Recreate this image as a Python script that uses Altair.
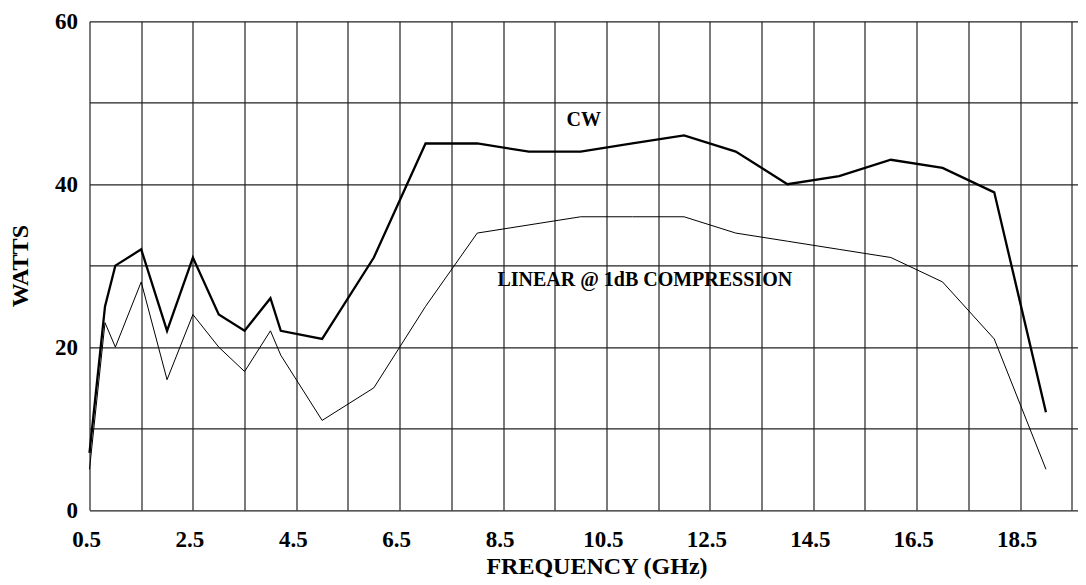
import altair as alt
import pandas as pd

# ---- data ----
freq = [0.5, 0.8, 1.0, 1.5, 2.0, 2.5, 3.0, 3.5, 4.0, 4.2, 5.0, 6.0, 7.0,
        8.0, 9.0, 10.0, 11.0, 12.0, 13.0, 14.0, 15.0, 16.0, 17.0, 18.0, 19.0]
cw_watts = [7, 25, 30, 32, 22, 31, 24, 22, 26, 22, 21, 31, 45,
            45, 44, 44, 45, 46, 44, 40, 41, 43, 42, 39, 12]
linear_watts = [5, 23, 20, 28, 16, 24, 20, 17, 22, 19, 11, 15, 25,
                34, 35, 36, 36, 36, 34, 33, 32, 31, 28, 21, 5]

x_grid = [0.5 + i for i in range(20)]
y_grid = [0, 10, 20, 30, 40, 50, 60]

label_text = ["CW", "LINEAR @ 1dB COMPRESSION"]
label_x = [10.06, 11.24]
label_y = [47.9, 28.2]

x_max = 19.62

cw_df = pd.DataFrame({"freq": freq, "watts": cw_watts})
lin_df = pd.DataFrame({"freq": freq, "watts": linear_watts})
txt_df = pd.DataFrame({"text": label_text, "freq": label_x, "watts": label_y})

FONT = "Liberation Serif"

x_enc = alt.X(
    "freq:Q",
    scale=alt.Scale(domain=[0.5, x_max], nice=False, zero=False),
    axis=alt.Axis(
        values=x_grid,
        format=".1f",
        labelExpr="(datum.value - 0.5) % 2 == 0 ? datum.label : ''",
        title="FREQUENCY (GHz)",
        grid=True,
        gridColor="#222222",
        gridWidth=1.2,
        gridOpacity=1,
        domain=False,
        ticks=False,
        tickSize=0,
        labelPadding=18,
        labelOffset=-3.5,
        labelFlush=False,
        labelBound=False,
        labelOverlap=False,
        labelFont=FONT,
        labelFontSize=23,
        labelFontWeight="bold",
        labelColor="black",
        titleFont=FONT,
        titleFontSize=24,
        titleFontWeight="bold",
        titleColor="black",
        titleX=507,
        titleY=63,
        titleAlign="center",
        titleBaseline="alphabetic",
    ),
)

y_enc = alt.Y(
    "watts:Q",
    scale=alt.Scale(domain=[0, 60], nice=False),
    axis=alt.Axis(
        values=y_grid,
        labelExpr="datum.value % 20 == 0 ? datum.label : ''",
        title="WATTS",
        grid=True,
        gridColor="#222222",
        gridWidth=1.2,
        gridOpacity=1,
        domain=False,
        ticks=False,
        tickSize=0,
        labelPadding=12,
        labelOverlap=False,
        labelFont=FONT,
        labelFontSize=23,
        labelFontWeight="bold",
        labelColor="black",
        titleFont=FONT,
        titleFontSize=24,
        titleFontWeight="bold",
        titleColor="black",
        titleAngle=270,
        titleX=-69,
        titleY=244.35,
        titleAlign="center",
        titleBaseline="middle",
    ),
)

cw_line = alt.Chart(cw_df).mark_line(color="black", strokeWidth=2.3).encode(
    x=x_enc, y=y_enc
)
lin_line = alt.Chart(lin_df).mark_line(color="black", strokeWidth=1).encode(
    x=x_enc, y=y_enc
)
labels = alt.Chart(txt_df).mark_text(
    font=FONT, fontSize=20, fontWeight="bold", color="black",
    align="center", baseline="middle"
).encode(x=x_enc, y=y_enc, text="text:N")

chart = (
    alt.layer(lin_line, cw_line, labels)
    .properties(
        width=988.5,
        height=488.7,
        autosize=alt.AutoSizeParams(type="none"),
        padding={"left": 81.5, "top": 13.3, "right": 0, "bottom": 69},
        background="white",
    )
    .configure_view(strokeWidth=0)
)

chart.save("out.html", embed_options={"renderer": "svg", "actions": False})
